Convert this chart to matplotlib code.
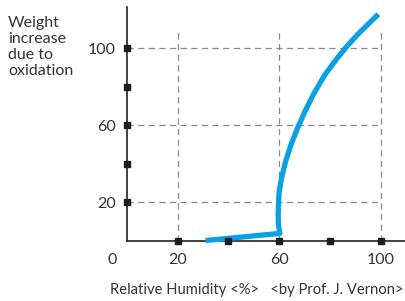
import matplotlib
matplotlib.use("Agg")
import matplotlib.pyplot as plt

# data
humidity = [31, 60.3, 59.7, 59.6, 59.8, 60.0, 60.9, 62.5, 64.6, 67.2, 70.1, 73.4, 78.0, 82.9, 86.7, 90.8, 94.8, 99.1]
weight = [0, 3.7, 8, 14, 21, 25.4, 32.3, 40.9, 49.6, 58.3, 66.9, 75.7, 86.1, 94.8, 100.9, 106.9, 112.1, 117.6]
x_ticks = [20, 60, 100]
y_ticks = [20, 60, 100]
x_markers = [20, 40, 60, 80, 100]
y_markers = [20, 40, 60, 80, 100]
x_label = "Relative Humidity <%>   <by Prof. J. Vernon>"
y_label = "Weight\nincrease\ndue to\noxidation"
origin_label = "0"

plt.rcParams['font.family'] = ['Lato', 'DejaVu Sans']
txt = '#333333'

fig = plt.figure(figsize=(4.06, 3.01), dpi=100)
ax = fig.add_axes([127/406, 60.5/301, 1 - 127/406, (240.5 - 6.7)/301])
ax.set_xlim(0, 110)
ax.set_ylim(0, 121.5)

# grid rectangle
ax.hlines(y_ticks, 0, 100, colors='#8a8a8a', linestyles=(0, (5, 3.5)), linewidth=0.9, zorder=1)
ax.vlines(x_ticks, 0, 110, colors='#8a8a8a', linestyles=(0, (5, 3.5)), linewidth=0.9, zorder=1)

# curve
ax.plot(humidity, weight, color='#0aa0e4', linewidth=3.8, solid_capstyle='butt',
        solid_joinstyle='round', zorder=3, clip_on=False)

# square markers on axes
ax.plot(x_markers, [0] * len(x_markers), 's', color='#1e1e1e', markersize=4.3, clip_on=False, zorder=5)
ax.plot([0] * len(y_markers), y_markers, 's', color='#1e1e1e', markersize=4.3, clip_on=False, zorder=5)

for s in ['top', 'right']:
    ax.spines[s].set_visible(False)
for s in ['left', 'bottom']:
    ax.spines[s].set_color('#222222')
    ax.spines[s].set_linewidth(1.2)

ax.set_xticks(x_ticks)
ax.set_yticks(y_ticks)
ax.set_xticklabels([str(v) for v in x_ticks])
ax.set_yticklabels([str(v) for v in y_ticks])
ax.tick_params(axis='both', length=0, labelsize=11.5, labelcolor=txt)
ax.tick_params(axis='x', pad=9)
ax.tick_params(axis='y', pad=8)

ax.text(-5.8, -6.5, origin_label, ha='center', va='top', fontsize=11.5, color=txt, clip_on=False,
        transform=ax.transData)

fig.text(8/406, 1 - 16/301, y_label, ha='left', va='top', fontsize=11.5, color=txt, linespacing=1.17)
xl = fig.text(110/406, 1 - 290/301, x_label, ha='left', va='center', fontsize=11.5, color=txt)

# fit the x label to the reference width (~294 px)
fig.canvas.draw()
w = xl.get_window_extent(fig.canvas.get_renderer()).width
xl.set_fontsize(11.5 * 294 / w)

fig.savefig('out.png', dpi=100)
